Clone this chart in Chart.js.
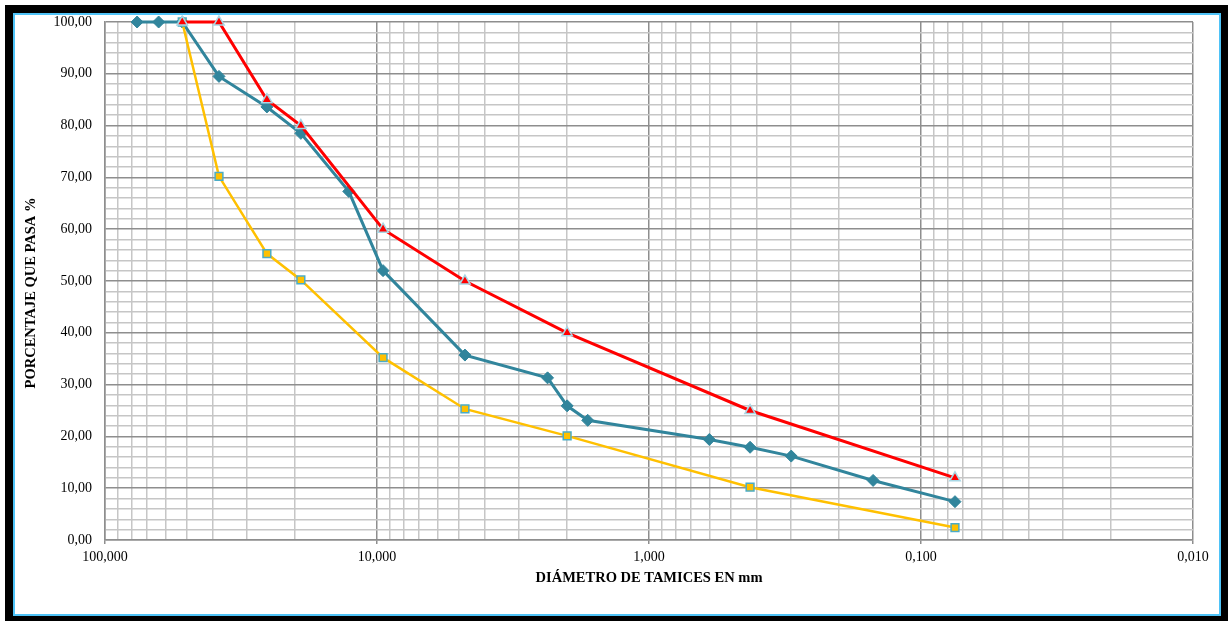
<!DOCTYPE html>
<html>
<head>
<meta charset="utf-8">
<script src="https://cdn.jsdelivr.net/npm/chart.js@4/dist/chart.umd.min.js"></script>
<style>
html,body{margin:0;padding:0;background:#fff;width:1228px;height:621px;overflow:hidden;}
#frame{position:absolute;left:5px;top:5px;width:1223px;height:616px;background:#000;}
#inner{position:absolute;left:8px;top:8px;right:7px;bottom:5px;background:#fff;border:2px solid #4FC3F7;box-sizing:border-box;}
#c{position:absolute;left:0;top:0;}
</style>
</head>
<body>
<div id="frame"><div id="inner"></div></div>
<canvas id="c" width="1228" height="621"></canvas>
<script>
// ---- data ----
const sieveOpeningsBlue = [76.2, 63.5, 52, 38.1, 25.4, 19.05, 12.7, 9.5, 4.75, 2.36, 2.0, 1.68, 0.6, 0.425, 0.3, 0.15, 0.075];
const passingBlue       = [100, 100, 100, 89.5, 83.6, 78.5, 67.3, 52.0, 35.7, 31.3, 25.9, 23.1, 19.4, 17.9, 16.2, 11.5, 7.4];

const sieveOpeningsLimits = [52, 38.1, 25.4, 19.05, 9.5, 4.75, 2.0, 0.425, 0.075];
const passingUpper        = [100, 100, 85, 80, 60, 50, 40, 25, 12];
const passingLower        = [100, 70.2, 55.3, 50.2, 35.2, 25.3, 20.1, 10.2, 2.4];

const xTickValues = [100, 10, 1, 0.1, 0.01];
const xTickLabels = ['100,000', '10,000', '1,000', '0,100', '0,010'];
const yTickValues = [0, 10, 20, 30, 40, 50, 60, 70, 80, 90, 100];
const yTickLabels = ['0,00', '10,00', '20,00', '30,00', '40,00', '50,00', '60,00', '70,00', '80,00', '90,00', '100,00'];

const xTitle = 'DIÁMETRO DE TAMICES EN mm';
const yTitle = 'PORCENTAJE QUE PASA %';

// ---- helpers ----
const pts = (xs, ys) => xs.map((x, i) => ({ x: x, y: ys[i] }));
const near = (a, b) => Math.abs(a - b) <= Math.abs(b) * 1e-6 + 1e-12;
const xDecadeIndex = v => xTickValues.findIndex(d => near(v, d));
const yMajorIndex = v => yTickValues.findIndex(d => near(v, d));

const MAJOR = '#8e8e8e', MINOR = '#c6c6c6';
const serif = "'Liberation Serif', 'Times New Roman', serif";

// y-axis title, drawn as text on the chart canvas (sits slightly below axis centre as in the original)
const yTitlePlugin = {
  id: 'yTitle',
  afterDraw(chart) {
    const ctx = chart.ctx;
    const y = chart.scales.y;
    ctx.save();
    ctx.translate(31, (y.top + y.bottom) / 2 + 12);
    ctx.rotate(-Math.PI / 2);
    ctx.font = "bold 14.5px " + serif;
    ctx.fillStyle = '#000';
    ctx.textAlign = 'center';
    ctx.textBaseline = 'middle';
    ctx.fillText(yTitle, 0, 0);
    ctx.restore();
  }
};

new Chart(document.getElementById('c'), {
  type: 'line',
  plugins: [yTitlePlugin],
  data: {
    datasets: [
      {
        label: 'Límite superior',
        data: pts(sieveOpeningsLimits, passingUpper),
        borderColor: '#FF0000', borderWidth: 3,
        pointStyle: 'triangle', pointRadius: 6,
        pointBackgroundColor: '#FF0000', pointBorderColor: '#A8D8E6', pointBorderWidth: 1.5,
        clip: false, tension: 0
      },
      {
        label: 'Límite inferior',
        data: pts(sieveOpeningsLimits, passingLower),
        borderColor: '#FFC000', borderWidth: 2.5,
        pointStyle: 'rect', pointRadius: 5.5,
        pointBackgroundColor: '#FFC000', pointBorderColor: '#4BACC6', pointBorderWidth: 1.5,
        clip: false, tension: 0
      },
      {
        label: 'Granulometría',
        data: pts(sieveOpeningsBlue, passingBlue),
        borderColor: '#31859C', borderWidth: 3,
        pointStyle: 'rectRot', pointRadius: 6,
        pointBackgroundColor: '#31859C', pointBorderColor: '#31859C', pointBorderWidth: 1,
        clip: false, tension: 0
      }
    ]
  },
  options: {
    responsive: false,
    animation: false,
    events: [],
    layout: { padding: { left: 15, top: 22, right: 35, bottom: 10 } },
    plugins: { legend: { display: false }, tooltip: { enabled: false } },
    scales: {
      x: {
        type: 'logarithmic',
        reverse: true,
        min: 0.01, max: 100,
        afterFit: s => { s.height = 71; },
        afterBuildTicks: s => {
          const t = [];
          for (let i = xTickValues.length - 1; i > 0; i--) {
            const d = xTickValues[i];
            for (let m = 1; m <= 9; m++) t.push({ value: Number((m * d).toPrecision(6)) });
          }
          t.push({ value: xTickValues[0] });
          s.ticks = t;
        },
        ticks: {
          autoSkip: false, maxRotation: 0, minRotation: 0, padding: 5,
          color: '#000', font: { family: serif, size: 14 },
          callback: v => { const i = xDecadeIndex(v); return i >= 0 ? xTickLabels[i] : ''; }
        },
        grid: {
          drawTicks: true, tickLength: 4,
          color: c => (c.tick && xDecadeIndex(c.tick.value) >= 0) ? MAJOR : MINOR,
          tickColor: c => (c.tick && xDecadeIndex(c.tick.value) >= 0) ? MAJOR : 'rgba(0,0,0,0)',
          lineWidth: 1.5
        },
        border: { display: true, color: MAJOR, width: 1.5 },
        title: {
          display: true, text: xTitle, color: '#000',
          font: { family: serif, size: 14.5, weight: 'bold' },
          padding: { top: 0, bottom: 24 }
        }
      },
      y: {
        type: 'linear',
        min: 0, max: 100,
        afterFit: s => { s.width = 90; },
        ticks: {
          stepSize: 2, autoSkip: false, padding: 9,
          color: '#000', font: { family: serif, size: 14 },
          callback: v => { const i = yMajorIndex(v); return i >= 0 ? yTickLabels[i] : ''; }
        },
        grid: {
          drawTicks: true, tickLength: 4,
          color: c => (c.tick && yMajorIndex(c.tick.value) >= 0) ? MAJOR : MINOR,
          tickColor: 'rgba(0,0,0,0)',
          lineWidth: 1.5
        },
        border: { display: true, color: MAJOR, width: 1.5 },
        title: { display: false }
      }
    }
  }
});
</script>
</body>
</html>
